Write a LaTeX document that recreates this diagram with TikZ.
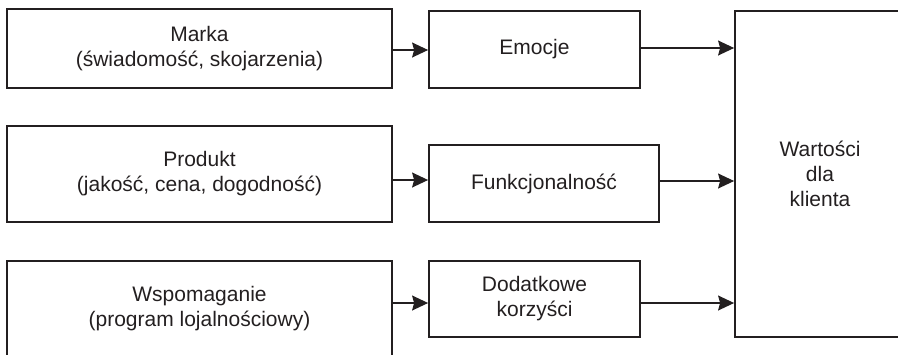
\documentclass[tikz,border=0pt]{standalone}
\usepackage{fontspec}
\setmainfont{Liberation Sans}
\usetikzlibrary{arrows.meta}
\definecolor{ink}{RGB}{35,31,32}
\begin{document}
\begin{tikzpicture}[x=1pt,y=-1pt,
  box/.style={draw=ink,line width=1.8pt,rectangle,inner sep=0pt,
    text=ink,align=center,font=\fontsize{21}{25}\selectfont},
  conn/.style={draw=ink,line width=1.2pt,
    -{Stealth[length=16pt,width=15pt,inset=2pt]}}]
\useasboundingbox (0,0) rectangle (898,354);
\clip (0,0) rectangle (898,354);
\node[box,minimum width=385pt,minimum height=79pt] (marka) at (199.5,48.5)
  {Marka\\(świadomość, skojarzenia)};
\node[box,minimum width=211pt,minimum height=77pt] (emocje) at (534.5,49.5)
  {Emocje};
\node[box,minimum width=385pt,minimum height=96pt] (produkt) at (199.5,174)
  {Produkt\\(jakość, cena, dogodność)};
\node[box,minimum width=230pt,minimum height=77pt] (funk) at (544,183.5)
  {Funkcjonalność};
\node[box,minimum width=385pt,minimum height=96pt] (wsp) at (199.5,309)
  {Wspomaganie\\(program lojalnościowy)};
\node[box,minimum width=211pt,minimum height=76pt] (dod) at (534.5,299)
  {Dodatkowe\\korzyści};
\node[box,minimum width=170pt,minimum height=326pt] (wart) at (820,174)
  {Wartości\\dla\\klienta};
\draw[conn] ([yshift=-1.5pt]marka.east) -- ([yshift=-1.5pt]marka.east -| emocje.west);
\draw[conn] ([yshift=1.5pt]emocje.east) -- ([yshift=1.5pt]emocje.east -| wart.west);
\draw[conn] ([yshift=3.5pt]funk.west -| produkt.east) -- ([yshift=3.5pt]funk.west);
\draw[conn] ([yshift=2.5pt]funk.east) -- ([yshift=2.5pt]funk.east -| wart.west);
\draw[conn] ([yshift=-4pt]dod.west -| wsp.east) -- ([yshift=-4pt]dod.west);
\draw[conn] ([yshift=-4pt]dod.east) -- ([yshift=-4pt]dod.east -| wart.west);
\end{tikzpicture}
\end{document}
